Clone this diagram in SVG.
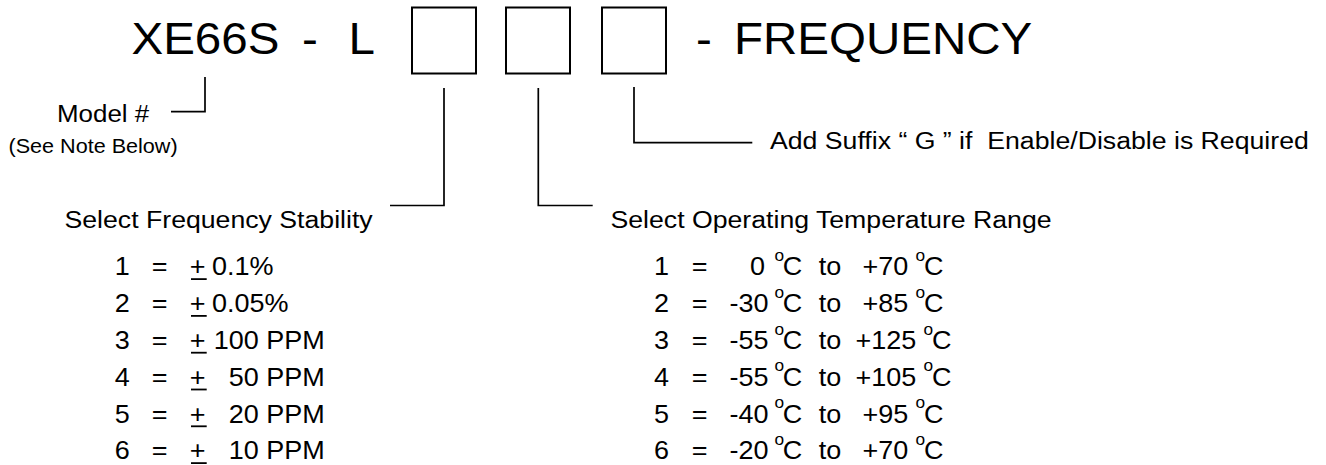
<svg xmlns="http://www.w3.org/2000/svg" width="1326" height="465" viewBox="0 0 1326 465">
<style>
text{font-family:"Liberation Sans",Arial,Helvetica,sans-serif;fill:#000}
.t{font-size:44px}
.h{font-size:24.7px}
.r{font-size:25px}
.deg{font-size:16px}
.e{text-anchor:end}
.pre{white-space:pre}
.box{fill:none;stroke:#000;stroke-width:2}
.ln{fill:none;stroke:#000;stroke-width:1.7}
.ul{stroke:#000;stroke-width:1.8}
</style>
<rect width="1326" height="465" fill="#fff"/>
<g id="title" transform="scale(1.08 1)">
<text class="t" x="121.76" y="54">XE66S</text>
<text class="t" x="279.63" y="54">-</text>
<text class="t" x="322.69" y="54">L</text>
<text class="t" x="644.44" y="54">-</text>
<text class="t" x="679.63" y="54">FREQUENCY</text>
</g>
<g id="box1"><rect class="box" x="412" y="7.5" width="64" height="66"/></g>
<g id="box2"><rect class="box" x="506" y="7.5" width="64" height="66"/></g>
<g id="box3"><rect class="box" x="602" y="7.5" width="64" height="66"/></g>
<g id="model" transform="scale(1.08 1)">
<text x="52.78" y="122.3" style="font-size:24px">Model #</text>
<text x="7.87" y="153.3" style="font-size:20px">(See Note Below)</text>
</g>
<g id="suffix" transform="scale(1.08 1)">
<text class="h pre" x="712.96" y="149">Add Suffix “ G ” if  Enable/Disable is Required</text>
</g>
<g id="connectors">
<path class="ln" d="M205,77 V111.7 H171"/>
<path class="ln" d="M444,88 V205.5 H390"/>
<path class="ln" d="M538.3,88 V205.5 H592.7"/>
<path class="ln" d="M634,87 V142.7 H752.3"/>
</g>
<g id="stability">
<g transform="scale(1.08 1)">
<text class="h" x="59.72" y="228.3">Select Frequency Stability</text>
<text class="r" x="106.2" y="275.5">1</text><text class="r" x="140.46" y="275.5">=</text><text class="r" x="175.65" y="275.5">+</text><text class="r" x="196.3" y="275.5">0.1%</text>
<text class="r" x="106.2" y="312.3">2</text><text class="r" x="140.46" y="312.3">=</text><text class="r" x="175.65" y="312.3">+</text><text class="r" x="196.3" y="312.3">0.05%</text>
<text class="r" x="106.2" y="349.1">3</text><text class="r" x="140.46" y="349.1">=</text><text class="r" x="175.65" y="349.1">+</text><text class="r e" x="300.65" y="349.1">100 PPM</text>
<text class="r" x="106.2" y="385.9">4</text><text class="r" x="140.46" y="385.9">=</text><text class="r" x="175.65" y="385.9">+</text><text class="r e" x="300.65" y="385.9">50 PPM</text>
<text class="r" x="106.2" y="422.7">5</text><text class="r" x="140.46" y="422.7">=</text><text class="r" x="175.65" y="422.7">+</text><text class="r e" x="300.65" y="422.7">20 PPM</text>
<text class="r" x="106.2" y="459.5">6</text><text class="r" x="140.46" y="459.5">=</text><text class="r" x="175.65" y="459.5">+</text><text class="r e" x="300.65" y="459.5">10 PPM</text>
</g>
<line class="ul" x1="191" y1="279.1" x2="206.7" y2="279.1"/>
<line class="ul" x1="191" y1="315.9" x2="206.7" y2="315.9"/>
<line class="ul" x1="191" y1="352.7" x2="206.7" y2="352.7"/>
<line class="ul" x1="191" y1="389.5" x2="206.7" y2="389.5"/>
<line class="ul" x1="191" y1="426.3" x2="206.7" y2="426.3"/>
<line class="ul" x1="191" y1="463.1" x2="206.7" y2="463.1"/>
</g>
<g id="temperature" transform="scale(1.08 1)">
<text class="h" x="565.28" y="228.3">Select Operating Temperature Range</text>
<text class="r" x="605.56" y="275.5">1</text><text class="r" x="640.46" y="275.5">=</text><text class="r e" x="708.33" y="275.5">0</text><text class="deg" x="717.13" y="261">o</text><text class="r" x="724.72" y="275.5">C</text><text class="r" x="758.15" y="275.5">to</text><text class="r" x="798.61" y="275.5">+70</text><text class="deg" x="847.69" y="261">o</text><text class="r" x="855.56" y="275.5">C</text>
<text class="r" x="605.56" y="312.3">2</text><text class="r" x="640.46" y="312.3">=</text><text class="r e" x="711.48" y="312.3">-30</text><text class="deg" x="717.13" y="297.8">o</text><text class="r" x="724.72" y="312.3">C</text><text class="r" x="758.15" y="312.3">to</text><text class="r" x="798.61" y="312.3">+85</text><text class="deg" x="847.69" y="297.8">o</text><text class="r" x="855.56" y="312.3">C</text>
<text class="r" x="605.56" y="349.1">3</text><text class="r" x="640.46" y="349.1">=</text><text class="r e" x="711.48" y="349.1">-55</text><text class="deg" x="717.13" y="334.6">o</text><text class="r" x="724.72" y="349.1">C</text><text class="r" x="758.15" y="349.1">to</text><text class="r" x="792.04" y="349.1">+125</text><text class="deg" x="855" y="334.6">o</text><text class="r" x="862.96" y="349.1">C</text>
<text class="r" x="605.56" y="385.9">4</text><text class="r" x="640.46" y="385.9">=</text><text class="r e" x="711.48" y="385.9">-55</text><text class="deg" x="717.13" y="371.4">o</text><text class="r" x="724.72" y="385.9">C</text><text class="r" x="758.15" y="385.9">to</text><text class="r" x="792.04" y="385.9">+105</text><text class="deg" x="855" y="371.4">o</text><text class="r" x="862.96" y="385.9">C</text>
<text class="r" x="605.56" y="422.7">5</text><text class="r" x="640.46" y="422.7">=</text><text class="r e" x="711.48" y="422.7">-40</text><text class="deg" x="717.13" y="408.2">o</text><text class="r" x="724.72" y="422.7">C</text><text class="r" x="758.15" y="422.7">to</text><text class="r" x="798.61" y="422.7">+95</text><text class="deg" x="847.69" y="408.2">o</text><text class="r" x="855.56" y="422.7">C</text>
<text class="r" x="605.56" y="459.5">6</text><text class="r" x="640.46" y="459.5">=</text><text class="r e" x="711.48" y="459.5">-20</text><text class="deg" x="717.13" y="445">o</text><text class="r" x="724.72" y="459.5">C</text><text class="r" x="758.15" y="459.5">to</text><text class="r" x="798.61" y="459.5">+70</text><text class="deg" x="847.69" y="445">o</text><text class="r" x="855.56" y="459.5">C</text>
</g>
</svg>
